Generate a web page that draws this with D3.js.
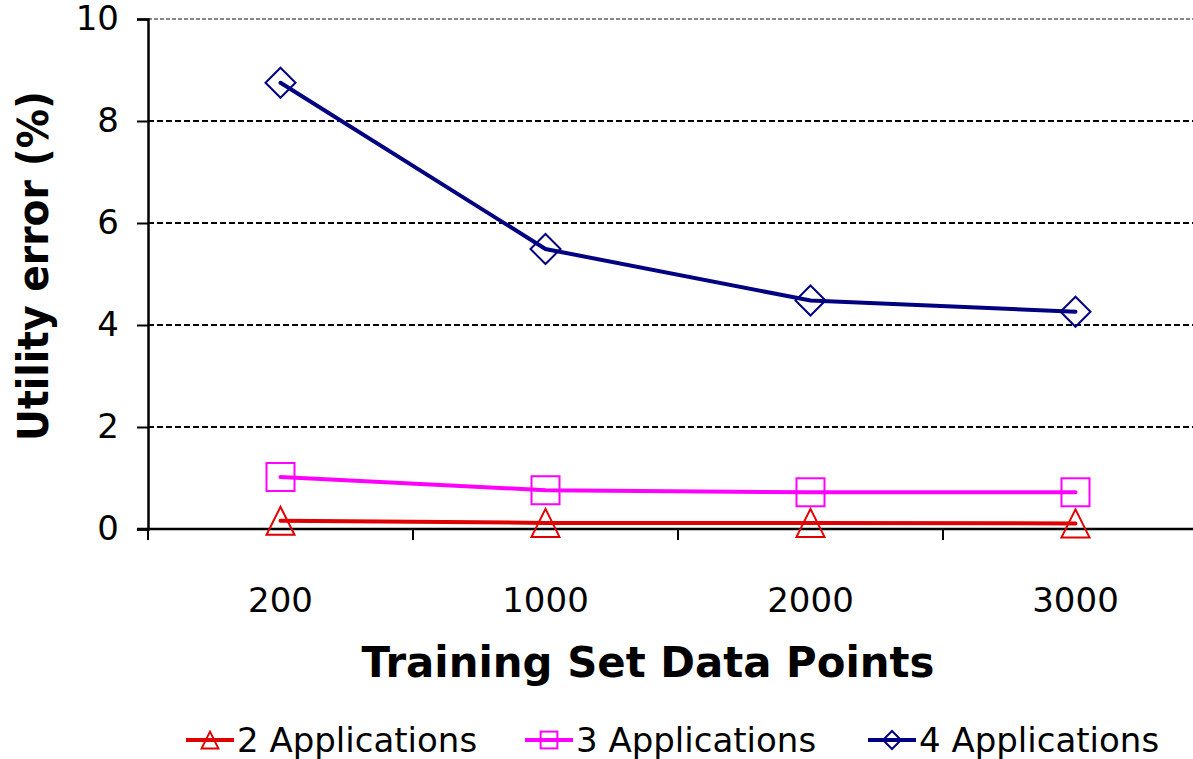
<!DOCTYPE html>
<html>
<head>
<meta charset="utf-8">
<script src="https://cdn.jsdelivr.net/npm/d3@7"></script>
<style>
  body { margin: 0; background: #fff; }
  svg { display: block; font-family: "DejaVu Sans", Verdana, sans-serif; }
</style>
</head>
<body>
<script>
// Chart data
const categories = ['200', '1000', '2000', '3000'];
const yTicks = [0, 2, 4, 6, 8, 10];
const seriesNames = ['2 Applications', '3 Applications', '4 Applications'];
const apps2 = [0.16, 0.12, 0.12, 0.11];
const apps3 = [1.02, 0.76, 0.72, 0.72];
const apps4 = [8.75, 5.49, 4.48, 4.26];

const width = 1193, height = 759;
const margin = { top: 19, left: 148, bottom: 230 };
const bandStep = 265;

const svg = d3.select('body').append('svg')
    .attr('width', width)
    .attr('height', height);

const x = d3.scaleBand()
    .domain(categories)
    .range([margin.left, margin.left + bandStep * categories.length]);

const y = d3.scaleLinear()
    .domain([0, 10])
    .range([height - margin.bottom, margin.top]);

// Gridlines
svg.append('g')
    .selectAll('line')
    .data(yTicks.filter(d => d > 0))
    .join('line')
    .attr('x1', margin.left)
    .attr('x2', width)
    .attr('y1', d => y(d))
    .attr('y2', d => y(d))
    .style('stroke', d => d === 10 ? '#888' : '#000')
    .style('stroke-width', 2)
    .style('stroke-dasharray', d => d === 10 ? '4,2' : '6,3');

// Y axis
const yAxis = svg.append('g')
    .attr('transform', `translate(${margin.left},0)`)
    .call(d3.axisLeft(y).tickValues(yTicks).tickSize(11).tickPadding(18));
yAxis.select('.domain').style('stroke-width', 2.5);
yAxis.selectAll('.tick line').style('stroke-width', 2);
yAxis.selectAll('text')
    .style('font-size', '34px')
    .style('font-family', '"DejaVu Sans", Verdana, sans-serif')
    .attr('fill', '#000');

// X axis, ticks sit between categories
const xAxisG = svg.append('g')
    .attr('transform', `translate(0,${y(0)})`);
xAxisG.append('line')
    .attr('x1', margin.left - 11)
    .attr('x2', width)
    .style('stroke', '#000')
    .style('stroke-width', 2.5);
xAxisG.selectAll('.sep')
    .data(categories)
    .join('line')
    .attr('class', 'sep')
    .attr('x1', d => x(d))
    .attr('x2', d => x(d))
    .attr('y1', 0)
    .attr('y2', 11)
    .style('stroke', '#000')
    .style('stroke-width', 2);
xAxisG.selectAll('.lbl')
    .data(categories)
    .join('text')
    .attr('class', 'lbl')
    .attr('x', d => x(d) + x.bandwidth() / 2)
    .attr('y', 83)
    .attr('text-anchor', 'middle')
    .style('font-size', '34px')
    .text(d => d);

// Axis titles
svg.append('text')
    .attr('x', 648)
    .attr('y', 677)
    .attr('text-anchor', 'middle')
    .style('font-size', '42px')
    .style('font-weight', 'bold')
    .attr('textLength', 573)
    .attr('lengthAdjust', 'spacingAndGlyphs')
    .text('Training Set Data Points');

svg.append('text')
    .attr('transform', 'translate(48,266) rotate(-90)')
    .attr('text-anchor', 'middle')
    .style('font-size', '42px')
    .style('font-weight', 'bold')
    .attr('textLength', 350)
    .attr('lengthAdjust', 'spacingAndGlyphs')
    .text('Utility error (%)');

// Series
const series = [
    { name: seriesNames[0], values: apps2, color: '#e00000', marker: 'triangle' },
    { name: seriesNames[1], values: apps3, color: '#ff00ff', marker: 'square' },
    { name: seriesNames[2], values: apps4, color: '#000080', marker: 'diamond' }
];

function drawMarker(g, type, color) {
    if (type === 'triangle') {
        g.append('path').attr('d', 'M0,-14L14,14L-14,14Z');
    } else if (type === 'square') {
        g.append('rect').attr('x', -14).attr('y', -14).attr('width', 28).attr('height', 28);
    } else {
        g.append('path').attr('d', 'M0,-15L15,0L0,15L-15,0Z');
    }
    g.selectAll('*')
        .style('fill', 'none')
        .style('stroke', color)
        .style('stroke-width', 2);
}

const line = d3.line()
    .x((d, i) => x(categories[i]) + x.bandwidth() / 2)
    .y(d => y(d));

series.forEach(s => {
    svg.append('path')
        .datum(s.values)
        .attr('d', line)
        .style('fill', 'none')
        .style('stroke', s.color)
        .style('stroke-width', 4)
        .style('stroke-linecap', 'round');

    s.values.forEach((v, i) => {
        const g = svg.append('g')
            .attr('transform', `translate(${x(categories[i]) + x.bandwidth() / 2},${y(v)})`);
        drawMarker(g, s.marker, s.color);
    });
});

// Legend
const legendX = [186, 525, 868];
series.forEach((s, i) => {
    const lg = svg.append('g').attr('transform', `translate(${legendX[i]},740)`);
    lg.append('line')
        .attr('x1', 0).attr('x2', 48)
        .style('stroke', s.color)
        .style('stroke-width', 4);
    const m = lg.append('g').attr('transform', 'translate(24,0) scale(0.6)');
    drawMarker(m, s.marker, s.color);
    m.selectAll('*').style('stroke-width', 3.3);
    lg.append('text')
        .attr('x', 51)
        .attr('y', 12)
        .style('font-size', '34px')
        .text(s.name);
});
</script>
</body>
</html>
